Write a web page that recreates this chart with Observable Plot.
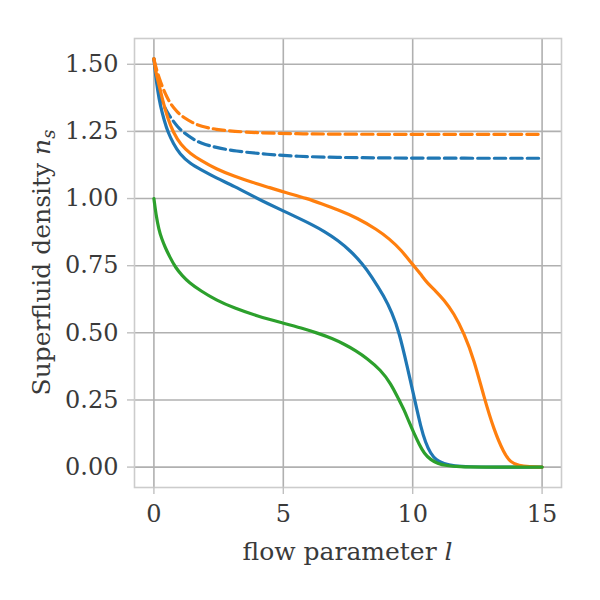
<!DOCTYPE html>
<html>
<head>
<meta charset="utf-8">
<script src="https://cdn.jsdelivr.net/npm/d3@7"></script>
<script src="https://cdn.jsdelivr.net/npm/@observablehq/plot@0.6"></script>
<style>
  body { margin: 0; background: #fff; }
  #chart svg { display: block; }
</style>
</head>
<body>
<div id="chart"></div>
<script>
// Superfluid density n_s along the flow parameter l

// Solid blue
const blueSolidL = [0, 0.07, 0.15, 0.25, 0.4, 0.55, 0.75, 1.0, 1.4, 1.8, 2.4, 3.1, 3.9, 4.4, 5.0, 5.7, 6.1, 6.6, 7.1, 7.6, 8.05, 8.4, 8.9, 9.2, 9.47, 9.79, 10.08, 10.31, 10.5, 10.69, 10.9, 11.2, 11.6, 12.2, 13, 15];
const blueSolidN = [1.52, 1.455, 1.40, 1.345, 1.29, 1.245, 1.205, 1.165, 1.13, 1.108, 1.077, 1.046, 1.005, 0.981, 0.954, 0.922, 0.903, 0.877, 0.845, 0.805, 0.758, 0.712, 0.635, 0.575, 0.505, 0.374, 0.25, 0.15, 0.09, 0.051, 0.027, 0.012, 0.004, 0.001, 0, 0];

// Dashed blue
const blueDashL = [0, 0.1, 0.27, 0.45, 0.66, 0.9, 1.17, 1.5, 1.81, 2.4, 3.1, 4.4, 5.55, 7, 9, 12, 15];
const blueDashN = [1.52, 1.46, 1.374, 1.33, 1.30, 1.268, 1.244, 1.222, 1.206, 1.19, 1.177, 1.164, 1.157, 1.153, 1.151, 1.15, 1.15];

// Solid orange
const orangeSolidL = [0, 0.07, 0.2, 0.35, 0.53, 0.75, 1.04, 1.4, 1.81, 2.4, 3.1, 3.8, 4.5, 5.03, 5.93, 6.5, 7.09, 7.86, 8.63, 9.1, 9.54, 10.0, 10.3, 10.56, 10.9, 11.2, 11.59, 11.98, 12.37, 12.75, 13.14, 13.53, 13.78, 14.1, 14.5, 15];
const orangeSolidN = [1.52, 1.47, 1.424, 1.36, 1.30, 1.245, 1.20, 1.168, 1.142, 1.11, 1.083, 1.06, 1.04, 1.024, 1.0, 0.98, 0.959, 0.928, 0.884, 0.85, 0.81, 0.754, 0.72, 0.685, 0.655, 0.623, 0.573, 0.499, 0.40, 0.262, 0.138, 0.051, 0.018, 0.005, 0.001, 0];

// Dashed orange
const orangeDashL = [0, 0.1, 0.2, 0.34, 0.5, 0.66, 0.9, 1.17, 1.5, 1.81, 2.4, 3.1, 4.0, 5.55, 7, 9, 12, 15];
const orangeDashN = [1.52, 1.48, 1.45, 1.412, 1.378, 1.35, 1.322, 1.30, 1.282, 1.269, 1.257, 1.25, 1.245, 1.241, 1.24, 1.239, 1.239, 1.239];

// Solid green
const greenL = [0, 0.08, 0.19, 0.3, 0.45, 0.6, 0.84, 1.1, 1.35, 1.81, 2.4, 3.1, 4.0, 5.0, 5.7, 6.32, 6.9, 7.35, 7.8, 8.25, 8.76, 9.15, 9.47, 9.67, 9.85, 10.05, 10.25, 10.44, 10.7, 10.95, 11.3, 11.8, 12.5, 15];
const greenN = [1.0, 0.94, 0.885, 0.85, 0.815, 0.785, 0.742, 0.712, 0.688, 0.656, 0.622, 0.592, 0.562, 0.536, 0.518, 0.499, 0.479, 0.458, 0.434, 0.404, 0.362, 0.312, 0.25, 0.213, 0.17, 0.126, 0.085, 0.051, 0.027, 0.014, 0.005, 0.001, 0, 0];

// Axis ticks
const xTicks = [0, 5, 10, 15];
const yTicks = [0, 0.25, 0.5, 0.75, 1.0, 1.25, 1.5];

const rows = (ls, ns) => ls.map((l, i) => ({l, n: ns[i]}));

const lineWidth = 3.2;
const dash = "11.5,5";
const gridColor = "#b0b0b0";
const textColor = "#3a3a3a";
const font = "DejaVu Serif";

const curves = [
  {data: rows(blueSolidL, blueSolidN), color: "#1f77b4", dash: null},
  {data: rows(blueDashL, blueDashN), color: "#1f77b4", dash},
  {data: rows(orangeSolidL, orangeSolidN), color: "#ff7f0e", dash: null},
  {data: rows(orangeDashL, orangeDashN), color: "#ff7f0e", dash},
  {data: rows(greenL, greenN), color: "#2ca02c", dash: null}
];

const chart = Plot.plot({
  width: 600,
  height: 600,
  marginLeft: 134,
  marginRight: 39,
  marginTop: 38,
  marginBottom: 113,
  style: {fontFamily: font, fontSize: "24px", color: textColor, background: "#fff"},
  x: {domain: [-0.75, 15.75], label: null},
  y: {domain: [-0.076, 1.596], label: null},
  marks: [
    Plot.gridX(xTicks, {stroke: gridColor, strokeOpacity: 1, strokeWidth: 1.6}),
    Plot.gridY(yTicks, {stroke: gridColor, strokeOpacity: 1, strokeWidth: 1.6}),
    Plot.frame({stroke: "#cccccc", strokeWidth: 1.6}),
    Plot.axisX(xTicks, {tickSize: 7, tickPadding: 10, stroke: "#c0c0c0", strokeWidth: 1.4, fill: textColor, fontSize: 24, label: null, tickFormat: d3.format("d")}),
    Plot.axisY(yTicks, {tickSize: 7, tickPadding: 9, stroke: "#c0c0c0", strokeWidth: 1.4, fill: textColor, fontSize: 24, label: null, tickFormat: d3.format(".2f")}),
    ...curves.map(c => Plot.line(c.data, {
      x: "l", y: "n", stroke: c.color, strokeWidth: lineWidth,
      strokeDasharray: c.dash, curve: "basis"
    }))
  ]
});

const svg = d3.select(chart);

// x-axis label with italic variable
const xl = svg.append("text")
  .attr("x", (134 + 561) / 2).attr("y", 560)
  .attr("text-anchor", "middle")
  .attr("fill", textColor)
  .style("font-family", font).style("font-size", "25px");
xl.append("tspan").text("flow parameter ");
xl.append("tspan").attr("font-style", "italic").text("l");

// y-axis label with subscripted n_s
const yl = svg.append("text")
  .attr("transform", `translate(50,${(38 + 487) / 2}) rotate(-90)`)
  .attr("text-anchor", "middle")
  .attr("fill", textColor)
  .style("font-family", font).style("font-size", "25px");
yl.append("tspan").text("Superfluid density ");
yl.append("tspan").attr("font-style", "italic").text("n");
yl.append("tspan").attr("font-style", "italic").attr("font-size", "18px").attr("dy", "0.3em").text("s");

document.getElementById("chart").appendChild(chart);
</script>
</body>
</html>
